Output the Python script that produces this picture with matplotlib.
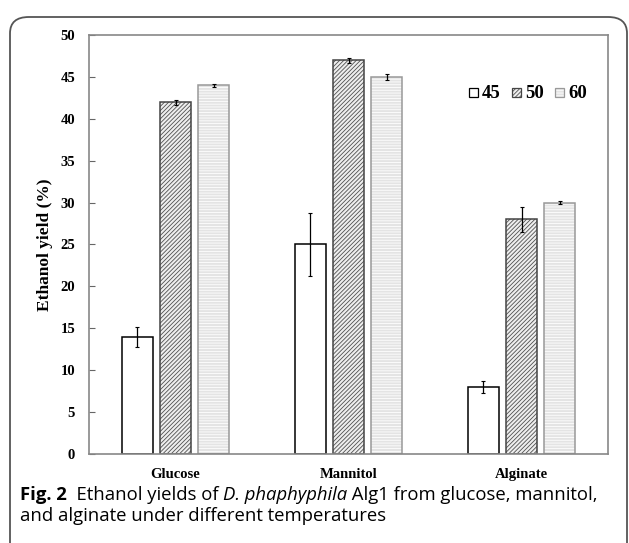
import matplotlib.pyplot as plt
import numpy as np
from matplotlib.patches import FancyBboxPatch, Rectangle

substrates = ["Glucose", "Mannitol", "Alginate"]
temps = ["45", "50", "60"]
y45 = [14, 25, 8]
y50 = [42, 47, 28]
y60 = [44, 45, 30]
e45 = [1.2, 3.7, 0.7]
e50 = [0.3, 0.3, 1.5]
e60 = [0.15, 0.4, 0.2]

plt.rcParams['hatch.linewidth'] = 0.6

W, H = 629, 543
fig = plt.figure(figsize=(W/100, H/100), dpi=100)
ax = fig.add_axes([89/W, 1-454/H, (608-89)/W, (454-35)/H])

x = np.arange(len(substrates))
w = 0.175
off = 0.22
# (fill, hatch colour, hatch, outline colour)
styles = [
    ("white", "black", None, "black"),
    ("#eeeeee", "#505050", "////////", "#444444"),
    ("#e4e4e4", "#ffffff", "------", "#999999"),
]
series = [(y45, e45), (y50, e50), (y60, e60)]
for i, ((vals, errs), (fc, hc, hatch, ec)) in enumerate(zip(series, styles)):
    pos = x + (i - 1) * off
    ax.bar(pos, vals, w, facecolor=fc, edgecolor=hc, hatch=hatch, linewidth=0)
    ax.bar(pos, vals, w, facecolor="none", edgecolor=ec, linewidth=1.1, yerr=errs,
           error_kw=dict(ecolor="black", elinewidth=0.9, capsize=1.2, capthick=0.8))

ax.set_xlim(-0.5, 2.5)
ax.set_ylim(0, 50)
ax.set_yticks(np.arange(0, 51, 5))
ax.set_xticks(x)
ax.set_xticklabels(substrates, family="Liberation Serif", fontweight="bold", fontsize=10.5)
for lab in ax.get_yticklabels():
    lab.set_family("Liberation Serif")
    lab.set_fontweight("bold")
    lab.set_fontsize(10.5)
ax.tick_params(axis="x", length=0, pad=10)
ax.tick_params(axis="y", length=4, direction="in", width=0.8, color="#666666", pad=10)
for s in ax.spines.values():
    s.set_color("#888888")
    s.set_linewidth(1.2)
ax.set_ylabel("Ethanol yield (%)", family="Liberation Serif", fontweight="bold",
              fontsize=12.5, labelpad=5)

# legend
lx = [469, 512, 555]
for i, (fc, hc, hatch, ec) in enumerate(styles):
    fig.patches.append(Rectangle((lx[i]/W, 1-97/H), 9/W, 9/H, transform=fig.transFigure,
                                 facecolor=fc, edgecolor=hc, hatch=hatch, linewidth=0))
    fig.patches.append(Rectangle((lx[i]/W, 1-97/H), 9/W, 9/H, transform=fig.transFigure,
                                 facecolor="none", edgecolor=ec, linewidth=0.9))
    fig.text((lx[i] + 13)/W, 1-93/H, temps[i], family="Liberation Serif",
             fontweight="bold", fontsize=13.5, va="center", ha="left")

# rounded frame
fig.patches.append(FancyBboxPatch((10/W, -0.05), 617/W, 1 - 17/H + 0.05,
                                  boxstyle="round,pad=0,rounding_size=0.03",
                                  transform=fig.transFigure, facecolor="none",
                                  edgecolor="#555555", linewidth=1.3))

# caption
fig.canvas.draw()
r = fig.canvas.get_renderer()
parts = [("Fig. 2", "bold", "normal"), ("  Ethanol yields of ", "normal", "normal"),
         ("D. phaphyphila", "normal", "italic"),
         (" Alg1 from glucose, mannitol,", "normal", "normal")]
cx = 20
for txt, wt, stl in parts:
    t = fig.text(cx/W, 1-500/H, txt, family="Open Sans", fontweight=wt,
                 fontstyle=stl, fontsize=13.3, va="baseline", ha="left")
    bb = t.get_window_extent(r)
    cx += bb.width
fig.text(20/W, 1-521/H, "and alginate under different temperatures",
         family="Open Sans", fontsize=13.3, va="baseline", ha="left")

fig.savefig("out.png", dpi=100)
